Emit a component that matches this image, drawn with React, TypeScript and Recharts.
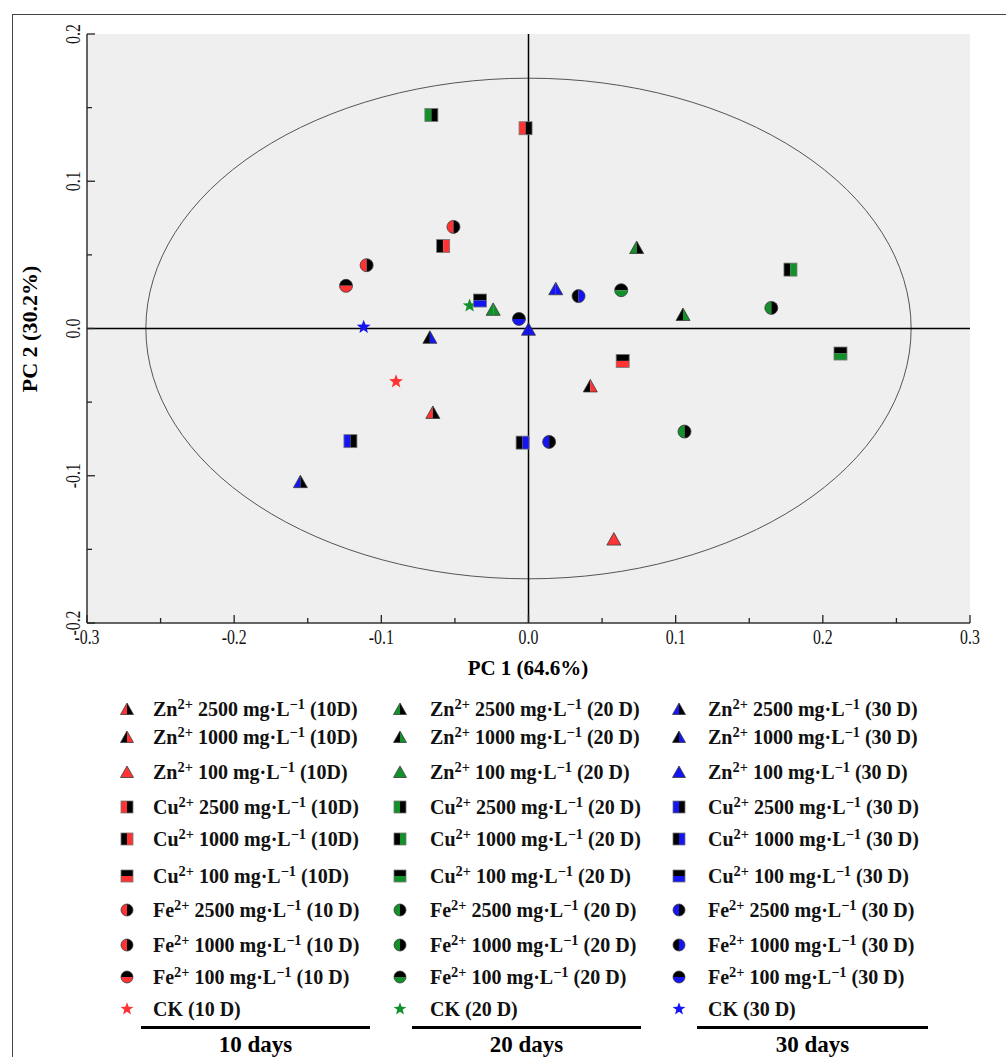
import React from 'react';
import { ScatterChart, Scatter, XAxis, YAxis, ReferenceArea, ReferenceLine } from 'recharts';

// treatment keys, same order in every legend column
const treatments = ['Zn2500', 'Zn1000', 'Zn100', 'Cu2500', 'Cu1000', 'Cu100', 'Fe2500', 'Fe1000', 'Fe100', 'CK'];
const ions = ['Zn', 'Zn', 'Zn', 'Cu', 'Cu', 'Cu', 'Fe', 'Fe', 'Fe', ''];
const concs = ['2500', '1000', '100', '2500', '1000', '100', '2500', '1000', '100', ''];
const suffix10D = ['(10D)', '(10D)', '(10D)', '(10D)', '(10D)', '(10D)', '(10 D)', '(10 D)', '(10 D)', '(10 D)'];
const suffix20D = ['(20 D)', '(20 D)', '(20 D)', '(20 D)', '(20 D)', '(20 D)', '(20 D)', '(20 D)', '(20 D)', '(20 D)'];
const suffix30D = ['(30 D)', '(30 D)', '(30 D)', '(30 D)', '(30 D)', '(30 D)', '(30 D)', '(30 D)', '(30 D)', '(30 D)'];
const dayTitles = ['10 days', '20 days', '30 days'];

// PCA scores
const points10D = [
  { t: 'Zn2500', x: -0.065, y: -0.057 },
  { t: 'Zn1000', x: 0.042, y: -0.039 },
  { t: 'Zn100', x: 0.058, y: -0.143 },
  { t: 'Cu2500', x: -0.002, y: 0.136 },
  { t: 'Cu1000', x: -0.058, y: 0.056 },
  { t: 'Cu100', x: 0.064, y: -0.022 },
  { t: 'Fe2500', x: -0.051, y: 0.069 },
  { t: 'Fe1000', x: -0.11, y: 0.043 },
  { t: 'Fe100', x: -0.124, y: 0.029 },
  { t: 'CK', x: -0.09, y: -0.036 },
];
const points20D = [
  { t: 'Zn2500', x: 0.0735, y: 0.055 },
  { t: 'Zn1000', x: 0.105, y: 0.0095 },
  { t: 'Zn100', x: -0.024, y: 0.013 },
  { t: 'Cu2500', x: -0.066, y: 0.145 },
  { t: 'Cu1000', x: 0.178, y: 0.04 },
  { t: 'Cu100', x: 0.212, y: -0.017 },
  { t: 'Fe2500', x: 0.165, y: 0.014 },
  { t: 'Fe1000', x: 0.106, y: -0.07 },
  { t: 'Fe100', x: 0.063, y: 0.026 },
  { t: 'CK', x: -0.04, y: 0.0155 },
];
const points30D = [
  { t: 'Zn2500', x: -0.155, y: -0.104 },
  { t: 'Zn1000', x: -0.067, y: -0.006 },
  { t: 'Zn100', x: 0.0185, y: 0.027 },
  { t: 'Zn100', x: 0.0, y: -0.0005 },
  { t: 'Cu2500', x: -0.121, y: -0.0765 },
  { t: 'Cu1000', x: -0.004, y: -0.0775 },
  { t: 'Cu100', x: -0.033, y: 0.019 },
  { t: 'Fe2500', x: 0.014, y: -0.077 },
  { t: 'Fe1000', x: 0.034, y: 0.022 },
  { t: 'Fe100', x: -0.0065, y: 0.0065 },
  { t: 'CK', x: -0.112, y: 0.001 },
];

// confidence ellipse half-axes (PC1, PC2)
const ellipseRadii = [0.26, 0.17];

const xTicks = [-0.3, -0.25, -0.2, -0.15, -0.1, -0.05, 0, 0.05, 0.1, 0.15, 0.2, 0.25, 0.3];
const yTicks = [-0.2, -0.15, -0.1, -0.05, 0, 0.05, 0.1, 0.15, 0.2];

const BLACK = '#000';
const dayColors = ['#ff3333', '#12902a', '#1515f2'];
const shapes: Record<string, string> = {
  Zn2500: 'triangle', Zn1000: 'triangle', Zn100: 'triangle',
  Cu2500: 'square', Cu1000: 'square', Cu100: 'square',
  Fe2500: 'circle', Fe1000: 'circle', Fe100: 'circle', CK: 'star',
};
// cl = colour left, kl = black left, kt = black top, full = solid
const splits: Record<string, string> = {
  Zn2500: 'cl', Zn1000: 'kl', Zn100: 'full', Cu2500: 'cl', Cu1000: 'kl', Cu100: 'kt',
  Fe2500: 'cl', Fe1000: 'cl', Fe100: 'kt', CK: 'full',
};
const splitFor = (t: string, day: number) => (day === 2 && t === 'Fe1000' ? 'kl' : splits[t]);

const days = [
  { points: points10D, suffix: suffix10D },
  { points: points20D, suffix: suffix20D },
  { points: points30D, suffix: suffix30D },
];

const FONT = '"Liberation Serif", "Times New Roman", serif';

function Marker({ cx, cy, kind, split, color, s = 13 }: any) {
  const stroke = '#3a3a3a';
  const sw = 0.8;
  const h = s / 2;
  let a = color;
  let b = color;
  if (split === 'cl') b = BLACK;
  if (split === 'kl' || split === 'kt') a = BLACK;

  if (kind === 'triangle') {
    const top = cy - h;
    const bot = cy + h - 0.5;
    const l = cx - h - 0.5;
    const r = cx + h + 0.5;
    return (
      <g>
        <polygon points={`${cx},${top} ${l},${bot} ${cx},${bot}`} fill={a} />
        <polygon points={`${cx},${top} ${cx},${bot} ${r},${bot}`} fill={b} />
        <polygon points={`${cx},${top} ${l},${bot} ${r},${bot}`} fill="none" stroke={stroke} strokeWidth={sw} />
      </g>
    );
  }
  if (kind === 'square') {
    const x0 = cx - h;
    const y0 = cy - h;
    return (
      <g>
        {split === 'kt' ? (
          <>
            <rect x={x0} y={y0} width={s} height={h} fill={a} />
            <rect x={x0} y={cy} width={s} height={h} fill={b} />
          </>
        ) : (
          <>
            <rect x={x0} y={y0} width={h} height={s} fill={a} />
            <rect x={cx} y={y0} width={h} height={s} fill={b} />
          </>
        )}
        <rect x={x0} y={y0} width={s} height={s} fill="none" stroke="#777" strokeWidth={sw} />
      </g>
    );
  }
  if (kind === 'circle') {
    const r = h;
    const p1 =
      split === 'kt'
        ? `M${cx - r},${cy} A${r},${r} 0 0 1 ${cx + r},${cy} Z`
        : `M${cx},${cy - r} A${r},${r} 0 0 0 ${cx},${cy + r} Z`;
    const p2 =
      split === 'kt'
        ? `M${cx - r},${cy} A${r},${r} 0 0 0 ${cx + r},${cy} Z`
        : `M${cx},${cy - r} A${r},${r} 0 0 1 ${cx},${cy + r} Z`;
    return (
      <g>
        <path d={p1} fill={a} />
        <path d={p2} fill={b} />
        <circle cx={cx} cy={cy} r={r} fill="none" stroke={stroke} strokeWidth={sw} />
      </g>
    );
  }
  // star, drawn a little larger than the other symbols
  const R = h * 1.12;
  const pts: string[] = [];
  for (let k = 0; k < 10; k++) {
    const rr = k % 2 === 0 ? R : R * 0.42;
    const ang = -Math.PI / 2 + (k * Math.PI) / 5;
    pts.push(`${cx + rr * Math.cos(ang)},${cy + rr * Math.sin(ang)}`);
  }
  return <polygon points={pts.join(' ')} fill={color} />;
}

const isMajor = (v: number) => Math.abs(v * 10 - Math.round(v * 10)) < 1e-6;
const fmt = (v: number) => (Math.abs(v) < 1e-9 ? '0.0' : v.toFixed(1));
const tickText = (label: string) => (
  <text textAnchor="middle" fontSize={22} fontFamily={FONT} fill="#111">
    {label}
  </text>
);

function BottomTick({ x, y, payload }: any) {
  const v = payload.value;
  const major = isMajor(v);
  return (
    <g>
      <line x1={x} y1={y} x2={x} y2={y - (major ? 8 : 5)} stroke="#222" strokeWidth={1.3} />
      {major && <g transform={`translate(${x},${y + 21}) scale(0.72,1)`}>{tickText(fmt(v))}</g>}
    </g>
  );
}
function TopTick({ x, y, payload }: any) {
  const major = isMajor(payload.value);
  return <line x1={x} y1={y} x2={x} y2={y + (major ? 8 : 5)} stroke="#222" strokeWidth={1.3} />;
}
function LeftTick({ x, y, payload }: any) {
  const v = payload.value;
  const major = isMajor(v);
  return (
    <g>
      <line x1={x} y1={y} x2={x + (major ? 8 : 5)} y2={y} stroke="#222" strokeWidth={1.3} />
      {major && <g transform={`translate(${x - 7},${y}) rotate(-90) scale(0.72,1)`}>{tickText(fmt(v))}</g>}
    </g>
  );
}
function RightTick({ x, y, payload }: any) {
  const major = isMajor(payload.value);
  return <line x1={x} y1={y} x2={x - (major ? 8 : 5)} y2={y} stroke="#222" strokeWidth={1.3} />;
}

const legendMarkerX = [127, 400, 679];
const legendTextX = [153, 430, 708];
const legendRowY = [709, 737, 772, 807, 839, 876, 910, 945, 977, 1009];
const legendRule = [[141, 370], [412, 641], [697, 928]];

const sup: React.CSSProperties = { fontSize: '0.72em', position: 'relative', top: '-0.5em' };

function LegendLabel({ i, day }: { i: number; day: number }) {
  const sfx = days[day].suffix[i];
  if (treatments[i] === 'CK') return <>CK {sfx}</>;
  return (
    <>
      {ions[i]}
      <span style={sup}>2+</span> {concs[i]} mg·L<span style={sup}>−1</span> {sfx}
    </>
  );
}

export default function App() {
  return (
    <div style={{ position: 'absolute', left: 0, top: 0, width: 1006, height: 1057, overflow: 'hidden', background: '#fff', fontFamily: FONT }}>
      <div style={{ position: 'absolute', left: 12, top: 14, width: 1100, height: 1100, border: '1px solid #444' }} />

      <div style={{ position: 'absolute', left: 0, top: 0 }}>
        <ScatterChart width={1006} height={660} margin={{ top: 34, right: 36, bottom: 0, left: 0 }}>
          <XAxis
            type="number"
            dataKey="x"
            domain={[-0.3, 0.3]}
            ticks={xTicks}
            interval={0}
            height={37}
            tickSize={0}
            tickMargin={0}
            tickLine={false}
            tick={<BottomTick />}
            axisLine={{ stroke: '#333', strokeWidth: 1.5 }}
            allowDataOverflow
          />
          <XAxis
            xAxisId="top"
            orientation="top"
            type="number"
            domain={[-0.3, 0.3]}
            ticks={xTicks}
            interval={0}
            height={0}
            tickSize={0}
            tickMargin={0}
            tickLine={false}
            tick={<TopTick />}
            axisLine={{ stroke: '#333', strokeWidth: 1.5 }}
            allowDataOverflow
          />
          <YAxis
            type="number"
            dataKey="y"
            domain={[-0.2, 0.2]}
            ticks={yTicks}
            interval={0}
            width={87}
            tickSize={0}
            tickMargin={0}
            tickLine={false}
            tick={<LeftTick />}
            axisLine={{ stroke: '#333', strokeWidth: 1.5 }}
            allowDataOverflow
          />
          <YAxis
            yAxisId="right"
            orientation="right"
            type="number"
            domain={[-0.2, 0.2]}
            ticks={yTicks}
            interval={0}
            width={0}
            tickSize={0}
            tickMargin={0}
            tickLine={false}
            tick={<RightTick />}
            axisLine={{ stroke: '#333', strokeWidth: 1.5 }}
            allowDataOverflow
          />
          <ReferenceArea x1={-0.3} x2={0.3} y1={-0.2} y2={0.2} fill="#efefef" fillOpacity={1} stroke="none" />
          <ReferenceArea
            x1={-ellipseRadii[0]}
            x2={ellipseRadii[0]}
            y1={-ellipseRadii[1]}
            y2={ellipseRadii[1]}
            shape={(p: any) => (
              <ellipse
                cx={p.x + p.width / 2}
                cy={p.y + p.height / 2}
                rx={Math.abs(p.width) / 2}
                ry={Math.abs(p.height) / 2}
                fill="none"
                stroke="#555"
                strokeWidth={1}
              />
            )}
          />
          <ReferenceLine x={0} stroke="#000" strokeWidth={1.5} />
          <ReferenceLine y={0} stroke="#000" strokeWidth={1.5} />
          {days.map((d, di) =>
            treatments.map((t) => (
              <Scatter
                key={`${di}-${t}`}
                name={`${t} ${dayTitles[di]}`}
                data={d.points.filter((p) => p.t === t)}
                isAnimationActive={false}
                shape={(p: any) => (
                  <Marker cx={p.cx} cy={p.cy} kind={shapes[t]} split={splitFor(t, di)} color={dayColors[di]} />
                )}
              />
            ))
          )}
        </ScatterChart>
      </div>

      <div style={{ position: 'absolute', left: 378, top: 655, width: 300, textAlign: 'center', fontSize: 21, fontWeight: 'bold', lineHeight: '26px' }}>
        PC 1 (64.6%)
      </div>
      <div
        style={{
          position: 'absolute',
          left: 30 - 150,
          top: 329 - 13,
          width: 300,
          height: 26,
          lineHeight: '26px',
          textAlign: 'center',
          fontSize: 22,
          fontWeight: 'bold',
          transform: 'rotate(-90deg)',
        }}
      >
        PC 2 (30.2%)
      </div>

      {days.map((d, di) => (
        <React.Fragment key={di}>
          {treatments.map((t, i) => (
            <React.Fragment key={t}>
              <svg style={{ position: 'absolute', left: legendMarkerX[di] - 10, top: legendRowY[i] - 10 }} width={20} height={20}>
                <Marker cx={10} cy={10} kind={shapes[t]} split={splitFor(t, di)} color={dayColors[di]} s={12} />
              </svg>
              <div
                style={{
                  position: 'absolute',
                  left: legendTextX[di],
                  top: legendRowY[i] - 13,
                  height: 26,
                  lineHeight: '26px',
                  fontSize: 20,
                  fontWeight: 'bold',
                  whiteSpace: 'nowrap',
                  color: '#111',
                }}
              >
                <LegendLabel i={i} day={di} />
              </div>
            </React.Fragment>
          ))}
          <div
            style={{
              position: 'absolute',
              left: legendRule[di][0],
              top: 1026,
              width: legendRule[di][1] - legendRule[di][0],
              height: 2.5,
              background: '#000',
            }}
          />
          <div
            style={{
              position: 'absolute',
              left: legendRule[di][0],
              top: 1031,
              width: legendRule[di][1] - legendRule[di][0],
              textAlign: 'center',
              fontSize: 23,
              fontWeight: 'bold',
              lineHeight: '28px',
            }}
          >
            {dayTitles[di]}
          </div>
        </React.Fragment>
      ))}
    </div>
  );
}
